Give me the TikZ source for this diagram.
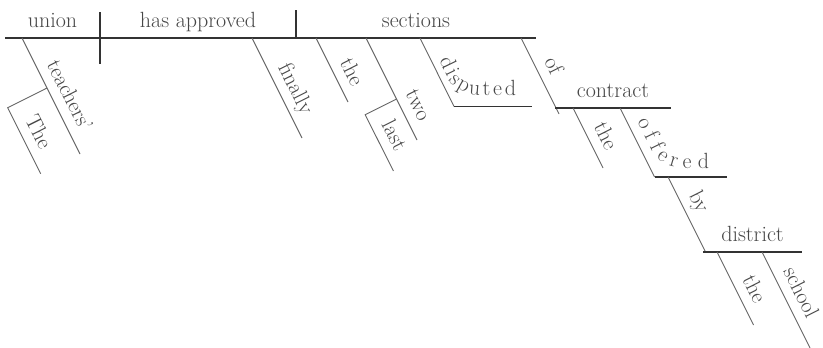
\documentclass[tikz,border=0pt]{standalone}
\usetikzlibrary{decorations.text}
\newcommand\wordfont{\fontsize{22}{26}\selectfont}

\begin{document}
\begin{tikzpicture}[x=1pt, y=-1pt,
  mainline/.style={draw=black!80, line width=1.1pt},
  slant/.style={draw=black!60, line width=0.9pt},
  word/.style={font=\wordfont, text=black!72, inner sep=5.5pt, text height=15pt, text depth=4pt},
  bentword/.style={decorate, decoration={text along path, text align={fit to path}, text color=black!72, text={|\wordfont|#1}}}]
  \useasboundingbox (0,0) rectangle (823,348);
  % base line: subject | verb | object
  \coordinate (b0) at (5,38);
  \coordinate (b1) at (100,38);
  \coordinate (b2) at (296,38);
  \coordinate (b3) at (536,38);
  \draw[mainline] (b0) -- node[word, above] (union) {union} (b1)
    -- node[word, above] (verb) {has approved} (b2)
    -- node[word, above] (sections) {sections} (b3);
  \coordinate (sv1) at (100,12);
  \coordinate (sv2) at (100,64);
  \coordinate (vo1) at (296,10);
  \draw[mainline] (sv1) -- (sv2);
  \draw[mainline] (vo1) -- (b2);
  % subject modifiers
  \coordinate (t1) at (22,38);
  \coordinate (t2) at (80,154);
  \coordinate (t3) at (47,88);
  \coordinate (t4) at (7.7,107.7);
  \coordinate (t5) at (40.7,173.7);
  \draw[slant] (t1) -- (t2) node[word, pos=0.56, sloped, above] (teachers) {teachers'};
  \draw[slant] (t3) -- (t4) -- (t5) node[word, pos=0.48, sloped, above] (the0) {The};
  % adverb
  \coordinate (f1) at (252,38);
  \coordinate (f2) at (302,138);
  \draw[slant] (f1) -- (f2) node[word, pos=0.58, sloped, above] (finally) {finally};
  % object modifiers
  \coordinate (s1) at (316,38);
  \coordinate (s2) at (348,102);
  \draw[slant] (s1) -- (s2) node[word, pos=0.65, sloped, above] (the1) {the};
  \coordinate (w1) at (366,38);
  \coordinate (w2) at (417,140);
  \coordinate (w3) at (396.5,99);
  \coordinate (w4) at (365.2,114.7);
  \coordinate (w5) at (393.4,171);
  \draw[slant] (w1) -- (w2) node[word, pos=0.73, sloped, above] (two) {two};
  \draw[slant] (w3) -- (w4) -- (w5) node[word, pos=0.5, sloped, above] (last) {last};
  \coordinate (d1) at (420,38);
  \coordinate (d2) at (454,106.5);
  \coordinate (d3) at (532,106.5);
  \draw[slant] (d1) -- (d2);
  \draw[mainline] (d2) -- (d3);
  \path[bentword=disputed, rounded corners=20pt] (439,60) -- (456,95) -- (516,95);
  % of the contract
  \coordinate (o1) at (521,38);
  \coordinate (o2) at (559,114);
  \coordinate (c1) at (555,108);
  \coordinate (c2) at (671,108);
  \draw[slant] (o1) -- (o2) node[word, pos=0.46, sloped, above] (of) {of};
  \draw[mainline] (c1) -- node[word, above] (contract) {contract} (c2);
  \coordinate (e1) at (573,108);
  \coordinate (e2) at (603,168);
  \draw[slant] (e1) -- (e2) node[word, pos=0.59, sloped, above] (the2) {the};
  \coordinate (p1) at (620,108);
  \coordinate (p2) at (654.5,177);
  \coordinate (p3) at (727,177);
  \draw[slant] (p1) -- (p2);
  \draw[mainline] (p2) -- (p3);
  \path[bentword=offered, rounded corners=20pt] (637,121) -- (660,168) -- (709,168);
  % by the school district
  \coordinate (y1) at (668,177);
  \coordinate (y2) at (705.5,252);
  \coordinate (k1) at (703,252);
  \coordinate (k2) at (802,252);
  \draw[slant] (y1) -- (y2) node[word, pos=0.43, sloped, above] (by) {by};
  \draw[mainline] (k1) -- node[word, above] (district) {district} (k2);
  \coordinate (h1) at (717,252);
  \coordinate (h2) at (753.5,325);
  \draw[slant] (h1) -- (h2) node[word, pos=0.61, sloped, above] (the3) {the};
  \coordinate (l1) at (762,252);
  \coordinate (l2) at (810,348);
  \draw[slant] (l1) -- (l2) node[word, pos=0.5, sloped, above] (school) {school};
\end{tikzpicture}
\end{document}
